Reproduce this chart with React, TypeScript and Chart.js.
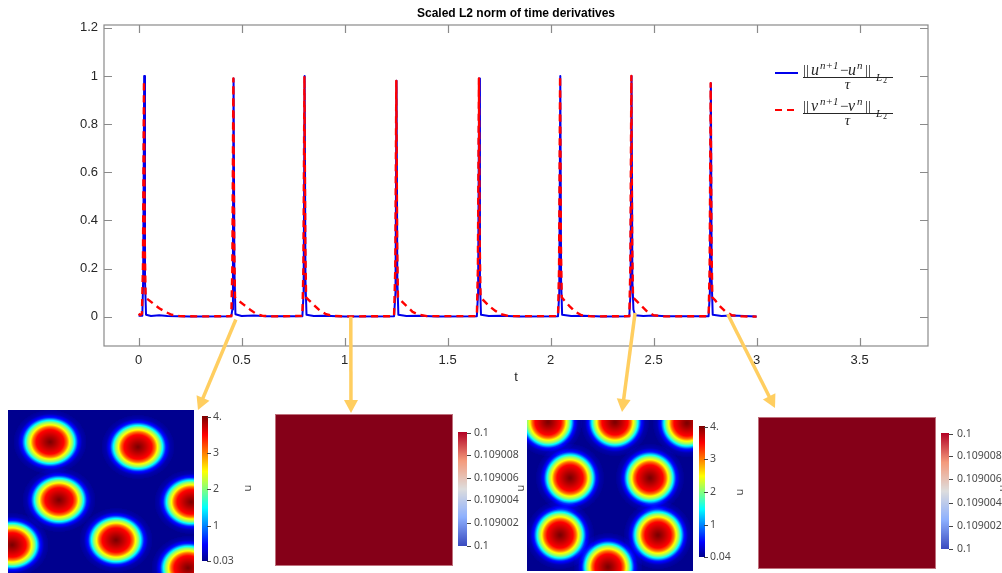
import { useEffect, useRef } from "react";
import { Chart, registerables } from "chart.js";

Chart.register(...registerables);

// ---------------- data ----------------
const chartTitle = "Scaled L2 norm of time derivatives";
const xAxisLabel = "t";
const xTickValues = [0, 0.5, 1, 1.5, 2, 2.5, 3, 3.5];
const yTickValues = [0, 0.2, 0.4, 0.6, 0.8, 1, 1.2];
const xRange = [-0.168, 3.832];
const yRange = [-0.122, 1.212];

// ||u^{n+1}-u^n|| / tau  (blue, solid)
const uTimes = [
  0, 0.018, 0.022, 0.027, 0.031, 0.036, 0.06, 0.1, 0.14, 0.25,
  0.45, 0.455, 0.458, 0.461, 0.465, 0.47, 0.5, 0.56, 0.62,
  0.795, 0.801, 0.806, 0.81, 0.815, 0.85, 0.9, 1.0,
  1.24, 1.247, 1.252, 1.256, 1.261, 1.3, 1.36, 1.45,
  1.642, 1.648, 1.653, 1.657, 1.662, 1.7, 1.76, 1.85,
  2.036, 2.042, 2.047, 2.051, 2.056, 2.1, 2.16, 2.25,
  2.382, 2.388, 2.393, 2.397, 2.402, 2.41, 2.45, 2.5, 2.56,
  2.767, 2.773, 2.778, 2.782, 2.787, 2.83, 2.88, 3.0,
];
const uNorms = [
  0.004, 0.004, 0.15, 1.0, 0.15, 0.008, 0.003, 0.006, 0.003, 0.001,
  0.002, 0.03, 0.3, 0.99, 0.2, 0.01, 0.003, 0.005, 0.002,
  0.002, 0.1, 1.0, 0.15, 0.008, 0.003, 0.004, 0.001,
  0.002, 0.1, 0.98, 0.15, 0.008, 0.003, 0.004, 0.001,
  0.002, 0.1, 0.99, 0.15, 0.008, 0.003, 0.004, 0.001,
  0.002, 0.1, 1.0, 0.15, 0.008, 0.003, 0.004, 0.001,
  0.002, 0.1, 1.0, 0.15, 0.03, 0.006, 0.003, 0.005, 0.002,
  0.002, 0.1, 0.97, 0.15, 0.008, 0.003, 0.005, 0.001,
];

// ||v^{n+1}-v^n|| / tau  (red, dashed)
const vTimes = [
  0, 0.008, 0.016, 0.021, 0.026, 0.03, 0.034, 0.045, 0.07, 0.1, 0.13, 0.16, 0.2, 0.3,
  0.45, 0.455, 0.46, 0.464, 0.468, 0.48, 0.51, 0.54, 0.57, 0.6, 0.65,
  0.795, 0.8, 0.805, 0.809, 0.813, 0.825, 0.855, 0.88, 0.91, 0.95, 1.0,
  1.24, 1.246, 1.251, 1.255, 1.259, 1.27, 1.3, 1.33, 1.36, 1.4,
  1.642, 1.647, 1.652, 1.656, 1.66, 1.672, 1.7, 1.73, 1.76, 1.8,
  2.036, 2.041, 2.046, 2.05, 2.054, 2.066, 2.09, 2.12, 2.15, 2.2,
  2.382, 2.387, 2.392, 2.396, 2.4, 2.412, 2.44, 2.47, 2.5, 2.55,
  2.767, 2.772, 2.777, 2.781, 2.785, 2.797, 2.82, 2.85, 2.88, 2.93, 3.0,
];
const vNorms = [
  0.012, 0.006, 0.012, 0.2, 0.98, 0.3, 0.08, 0.072, 0.055, 0.035, 0.02, 0.008, 0.002, 0.001,
  0.002, 0.2, 0.99, 0.3, 0.08, 0.07, 0.05, 0.03, 0.012, 0.004, 0.001,
  0.003, 0.2, 1.0, 0.3, 0.08, 0.07, 0.045, 0.025, 0.01, 0.003, 0.001,
  0.002, 0.2, 0.98, 0.3, 0.08, 0.07, 0.045, 0.02, 0.008, 0.002,
  0.002, 0.2, 0.99, 0.3, 0.08, 0.07, 0.045, 0.025, 0.01, 0.002,
  0.002, 0.2, 1.0, 0.3, 0.08, 0.068, 0.045, 0.02, 0.006, 0.001,
  0.002, 0.2, 1.0, 0.3, 0.08, 0.07, 0.045, 0.02, 0.006, 0.001,
  0.002, 0.2, 0.97, 0.3, 0.08, 0.07, 0.045, 0.02, 0.006, 0.001, 0.0,
];

// snapshot arrows: start on the curve (t, value)
const snapshotTimes = [0.472, 1.03, 2.41, 2.86];
const snapshotLevels = [-0.012, 0.0, 0.015, 0.01];

// u-field snapshots: blob centres (fraction of image width / height from top)
const field1BlobX = [0.226, 0.699, 0.274, 0.984, 0.581, 0.022, 0.968];
const field1BlobY = [0.196, 0.227, 0.552, 0.564, 0.798, 0.828, 0.969];
const field3BlobX = [0.127, 0.53, 0.964, 0.259, 0.741, 0.199, 0.789, 0.488];
const field3BlobY = [0.013, 0.013, 0.02, 0.384, 0.384, 0.762, 0.762, 0.974];
// radial profile of one spot (radius in px at nominal size, value of u)
const spotRadius = [0, 5, 13, 16, 18, 21, 23, 26, 30, 34];
const spotValue = [4.0, 3.8, 3.45, 3.0, 2.5, 2.0, 1.45, 0.55, 0.12, 0.03];
const field1Range = [0.03, 4];
const field3Range = [0.04, 4];
const jetBar1Values = [4, 3, 2, 1, 0.03];
const jetBar1Labels = ["4.", "3", "2", "1", "0.03"];
const jetBar3Values = [4, 3, 2, 1, 0.04];
const jetBar3Labels = ["4.", "3", "2", "1", "0.04"];
// v-field snapshots (uniform)
const vFieldValue = 0.10901;
const vBarRange = [0.109, 0.10901];
const vBarValues = [0.10901, 0.109008, 0.109006, 0.109004, 0.109002, 0.109];
const vBarLabels = ["0.1", "0.109008", "0.109006", "0.109004", "0.109002", "0.1"];
const barTitle = "u";

// ---------------- styles / layout ----------------
const AXIS_COLOR = "#8a8a8a";
const TEXT_COLOR = "#262626";
const BLUE = "rgb(0,0,235)";
const RED = "rgb(255,0,0)";
const ARROW_COLOR = "rgb(255,206,96)";
const ARROW_TIPS = [[198, 410], [351, 413], [622, 412], [775, 408]];
const SANS = '"Liberation Sans", Arial, sans-serif';
const SERIF = '"Liberation Serif", "Times New Roman", serif';
const BAR_FONT = '10.5px "Noto Sans", sans-serif';

const JET: number[][] = [
  [0, 0, 0, 143], [0.111, 0, 0, 255], [0.365, 0, 255, 255], [0.492, 128, 255, 128],
  [0.619, 255, 255, 0], [0.873, 255, 0, 0], [1, 128, 0, 0],
];
const COOLWARM: number[][] = [
  [0, 59, 76, 192], [0.25, 141, 176, 254], [0.5, 221, 221, 221], [0.75, 244, 154, 123], [1, 180, 4, 38],
];
function cmap(stops: number[][], t: number): number[] {
  t = Math.max(0, Math.min(1, t));
  for (let i = 1; i < stops.length; i++) {
    if (t <= stops[i][0]) {
      const a = stops[i - 1], b = stops[i];
      const f = (t - a[0]) / (b[0] - a[0]);
      return [a[1] + f * (b[1] - a[1]), a[2] + f * (b[2] - a[2]), a[3] + f * (b[3] - a[3])];
    }
  }
  const l = stops[stops.length - 1];
  return [l[1], l[2], l[3]];
}
function spotAt(r: number): number {
  if (r >= spotRadius[spotRadius.length - 1]) return 0;
  for (let i = 1; i < spotRadius.length; i++) {
    if (r <= spotRadius[i]) {
      const f = (r - spotRadius[i - 1]) / (spotRadius[i] - spotRadius[i - 1]);
      return spotValue[i - 1] + f * (spotValue[i] - spotValue[i - 1]);
    }
  }
  return 0;
}

type PanelDef = {
  left: number; top: number; width: number; height: number;
  pad: { left: number; top: number; right: number; bottom: number };
  bar: { x: number; y: number; w: number; h: number };
  tickX: number; labelX: number; title: [number, number];
  kind: "jet" | "uniform";
  blobX?: number[]; blobY?: number[]; sx?: number; sy?: number;
  range: number[]; barValues: number[]; barLabels: string[];
};

const PANELS: PanelDef[] = [
  {
    left: 0, top: 400, width: 262, height: 173,
    pad: { left: 8, top: 10, right: 68, bottom: 0 },
    bar: { x: 202, y: 16, w: 6, h: 145 }, tickX: 207, labelX: 213, title: [248, 88],
    kind: "jet", blobX: field1BlobX, blobY: field1BlobY, sx: 1.07, sy: 0.94,
    range: field1Range, barValues: jetBar1Values, barLabels: jetBar1Labels,
  },
  {
    left: 262, top: 400, width: 264, height: 173,
    pad: { left: 13, top: 14, right: 73, bottom: 7 },
    bar: { x: 196, y: 32, w: 9, h: 114 }, tickX: 205, labelX: 212, title: [259, 88],
    kind: "uniform", range: vBarRange, barValues: vBarValues, barLabels: vBarLabels,
  },
  {
    left: 526, top: 400, width: 226, height: 173,
    pad: { left: 1, top: 20, right: 59, bottom: 2 },
    bar: { x: 173, y: 26, w: 6, h: 131 }, tickX: 178, labelX: 184, title: [214, 92],
    kind: "jet", blobX: field3BlobX, blobY: field3BlobY, sx: 1.0, sy: 1.0,
    range: field3Range, barValues: jetBar3Values, barLabels: jetBar3Labels,
  },
  {
    left: 752, top: 400, width: 250, height: 173,
    pad: { left: 6, top: 17, right: 66, bottom: 4 },
    bar: { x: 189, y: 33, w: 8, h: 116 }, tickX: 197, labelX: 205, title: [251, 88],
    kind: "uniform", range: vBarRange, barValues: vBarValues, barLabels: vBarLabels,
  },
];

// ---------------- main chart drawing helpers ----------------
function drawNormLabel(ctx: CanvasRenderingContext2D, sym: string, x0: number, barY: number) {
  ctx.fillStyle = TEXT_COLOR;
  ctx.textAlign = "left";
  ctx.textBaseline = "alphabetic";
  const roman = (s: number) => `${s}px ${SERIF}`;
  const ital = (s: number) => `italic ${s}px ${SERIF}`;
  const pieces: [string, string, number, number][] = [
    ["||", roman(15), 0, -2],
    [sym, ital(16), 8, -2],
    ["n+1", ital(11), 17, -8],
    ["\u2212", roman(15), 37, -2],
    [sym, ital(16), 45, -2],
    ["n", ital(11), 54, -8],
    ["||", roman(15), 62, -2],
    ["L", ital(11), 73, 3.5],
    ["2", roman(8), 80, 5.5],
  ];
  for (const [txt, font, dx, dy] of pieces) {
    ctx.font = font;
    ctx.fillText(txt, x0 + dx, barY + dy);
  }
  ctx.strokeStyle = TEXT_COLOR;
  ctx.lineWidth = 1;
  ctx.beginPath();
  ctx.moveTo(x0, barY + 0.5);
  ctx.lineTo(x0 + 90, barY + 0.5);
  ctx.stroke();
  ctx.font = ital(15);
  ctx.textAlign = "center";
  ctx.fillText("\u03c4", x0 + 44.5, barY + 12);
}

const framePlugin = {
  id: "frame",
  afterDraw(chart: any) {
    const ctx: CanvasRenderingContext2D = chart.ctx;
    const { left, right, top, bottom } = chart.chartArea;
    const xs = chart.scales.x, ys = chart.scales.y;
    ctx.save();
    ctx.strokeStyle = AXIS_COLOR;
    ctx.lineWidth = 1.2;
    ctx.strokeRect(left, top, right - left, bottom - top);
    ctx.beginPath();
    for (const v of xTickValues) {
      const px = Math.round(xs.getPixelForValue(v)) + 0.5;
      ctx.moveTo(px, bottom); ctx.lineTo(px, bottom - 8);
      ctx.moveTo(px, top); ctx.lineTo(px, top + 8);
    }
    for (const v of yTickValues) {
      const py = Math.round(ys.getPixelForValue(v)) + 0.5;
      ctx.moveTo(left, py); ctx.lineTo(left + 8, py);
      ctx.moveTo(right, py); ctx.lineTo(right - 8, py);
    }
    ctx.stroke();

    // title & axis label
    ctx.fillStyle = "#000";
    ctx.font = `bold 12px ${SANS}`;
    ctx.textAlign = "center";
    ctx.textBaseline = "middle";
    ctx.fillText(chartTitle, (left + right) / 2, 14);
    ctx.fillStyle = TEXT_COLOR;
    ctx.font = `13px ${SANS}`;
    ctx.fillText(xAxisLabel, (left + right) / 2, 377);

    // legend
    ctx.lineWidth = 2;
    ctx.strokeStyle = BLUE;
    ctx.beginPath(); ctx.moveTo(775, 73); ctx.lineTo(798, 73); ctx.stroke();
    ctx.strokeStyle = RED;
    ctx.setLineDash([7, 5]);
    ctx.beginPath(); ctx.moveTo(775, 110); ctx.lineTo(799, 110); ctx.stroke();
    ctx.setLineDash([]);
    drawNormLabel(ctx, "u", 803, 77);
    drawNormLabel(ctx, "v", 803, 113);

    // arrows to snapshots
    ctx.strokeStyle = ARROW_COLOR;
    ctx.fillStyle = ARROW_COLOR;
    ctx.lineWidth = 3.5;
    ctx.lineCap = "butt";
    snapshotTimes.forEach((t, i) => {
      const sx = xs.getPixelForValue(t);
      const sy = ys.getPixelForValue(snapshotLevels[i]);
      const [tx, ty] = ARROW_TIPS[i];
      const dx = tx - sx, dy = ty - sy;
      const len = Math.hypot(dx, dy);
      const ux = dx / len, uy = dy / len;
      const hl = 13, hw = 7;
      const bx = tx - ux * hl, by = ty - uy * hl;
      ctx.beginPath(); ctx.moveTo(sx, sy); ctx.lineTo(bx + ux, by + uy); ctx.stroke();
      ctx.beginPath();
      ctx.moveTo(tx, ty);
      ctx.lineTo(bx - uy * hw, by + ux * hw);
      ctx.lineTo(bx + uy * hw, by - ux * hw);
      ctx.closePath();
      ctx.fill();
    });
    ctx.restore();
  },
};

function panelPlugin(p: PanelDef) {
  return {
    id: "field",
    beforeDatasetsDraw(chart: any) {
      const ctx: CanvasRenderingContext2D = chart.ctx;
      const { left, top, right, bottom } = chart.chartArea;
      const xs = chart.scales.x, ys = chart.scales.y;
      const pts = chart.data.datasets[0].data as { x: number; y: number; v?: number }[];
      const [lo, hi] = p.range;
      ctx.save();
      if (p.kind === "jet") {
        const w = Math.round(right - left), h = Math.round(bottom - top);
        const img = ctx.createImageData(w, h);
        const centers = pts.map((q) => [xs.getPixelForValue(q.x) - left, ys.getPixelForValue(q.y) - top]);
        for (let py = 0; py < h; py++) {
          for (let px = 0; px < w; px++) {
            let v = lo;
            for (const [cx, cy] of centers) {
              const rx = (px + 0.5 - cx) / p.sx!, ry = (py + 0.5 - cy) / p.sy!;
              const r = Math.sqrt(rx * rx + ry * ry);
              v += spotAt(r);
            }
            const c = cmap(JET, (v - lo) / (hi - lo));
            const k = (py * w + px) * 4;
            img.data[k] = c[0]; img.data[k + 1] = c[1]; img.data[k + 2] = c[2]; img.data[k + 3] = 255;
          }
        }
        ctx.putImageData(img, Math.round(left), Math.round(top));
      } else {
        const val = pts[0].v ?? hi;
        const c = cmap(COOLWARM, (val - lo) / (hi - lo));
        // shaded render of the uniform field
        ctx.fillStyle = `rgb(${Math.round(c[0] * 0.74)},${Math.round(c[1] * 0)},${Math.round(c[2] * 0.62)})`;
        ctx.fillRect(left, top, right - left, bottom - top);
        ctx.strokeStyle = "rgba(205,140,150,0.8)";
        ctx.lineWidth = 1;
        ctx.strokeRect(left + 0.5, top + 0.5, right - left - 1, bottom - top - 1);
      }
      // colour bar
      const b = p.bar;
      const stops = p.kind === "jet" ? JET : COOLWARM;
      for (let y = 0; y < b.h; y++) {
        const c = cmap(stops, 1 - y / (b.h - 1));
        ctx.fillStyle = `rgb(${Math.round(c[0])},${Math.round(c[1])},${Math.round(c[2])})`;
        ctx.fillRect(b.x, b.y + y, b.w, 1);
      }
      ctx.strokeStyle = "#444";
      ctx.lineWidth = 1;
      ctx.fillStyle = "#4a4a4a";
      ctx.font = BAR_FONT;
      ctx.textAlign = "left";
      ctx.textBaseline = "middle";
      p.barValues.forEach((v, i) => {
        const y = b.y + (1 - (v - lo) / (hi - lo)) * b.h;
        const yy = Math.round(Math.min(Math.max(y, b.y + 0.5), b.y + b.h - 0.5)) + 0.5;
        ctx.beginPath(); ctx.moveTo(p.tickX, yy); ctx.lineTo(p.tickX + 4, yy); ctx.stroke();
        ctx.fillText(p.barLabels[i], p.labelX, yy);
      });
      ctx.save();
      ctx.translate(p.title[0], p.title[1]);
      ctx.rotate(-Math.PI / 2);
      ctx.textAlign = "center";
      ctx.font = '11px "Noto Sans", sans-serif';
      ctx.fillText(barTitle, 0, 0);
      ctx.restore();
      ctx.restore();
    },
  };
}

export default function App() {
  const mainRef = useRef<HTMLCanvasElement | null>(null);
  const panelRefs = useRef<(HTMLCanvasElement | null)[]>([]);

  useEffect(() => {
    const charts: Chart[] = [];
    const tickFont = { family: SANS, size: 13 };
    charts.push(
      new Chart(mainRef.current!, {
        type: "line",
        data: {
          datasets: [
            {
              data: vTimes.map((t, i) => ({ x: t, y: vNorms[i] })),
              borderColor: RED,
              borderWidth: 2.4,
              borderDash: [7, 5],
              pointRadius: 0,
              borderJoinStyle: "round",
              order: 0,
            } as any,
            {
              data: uTimes.map((t, i) => ({ x: t, y: uNorms[i] })),
              borderColor: BLUE,
              borderWidth: 2,
              pointRadius: 0,
              borderJoinStyle: "round",
              order: 1,
            } as any,
          ],
        },
        options: {
          animation: false,
          responsive: false,
          devicePixelRatio: 1,
          events: [],
          layout: { padding: { top: 25, right: 74, left: 0, bottom: 0 } },
          plugins: { legend: { display: false }, tooltip: { enabled: false }, title: { display: false } },
          scales: {
            x: {
              type: "linear",
              min: xRange[0],
              max: xRange[1],
              afterBuildTicks: (s: any) => { s.ticks = xTickValues.map((v) => ({ value: v })); },
              afterFit: (s: any) => { s.height = 227; },
              grid: { display: false, drawTicks: false },
              border: { display: false },
              ticks: { padding: 7, font: tickFont, color: TEXT_COLOR, autoSkip: false, maxRotation: 0, callback: (v: any) => String(v) },
            },
            y: {
              type: "linear",
              min: yRange[0],
              max: yRange[1],
              afterBuildTicks: (s: any) => { s.ticks = yTickValues.map((v) => ({ value: v })); },
              afterFit: (s: any) => { s.width = 104; },
              grid: { display: false, drawTicks: false },
              border: { display: false },
              ticks: { padding: 6, font: tickFont, color: TEXT_COLOR, autoSkip: false, callback: (v: any) => String(v) },
            },
          },
        } as any,
        plugins: [framePlugin],
      })
    );

    PANELS.forEach((p, i) => {
      const data =
        p.kind === "jet"
          ? p.blobX!.map((x, k) => ({ x, y: p.blobY![k] }))
          : [{ x: 0.5, y: 0.5, v: vFieldValue }];
      charts.push(
        new Chart(panelRefs.current[i]!, {
          type: "scatter",
          data: { datasets: [{ data, pointRadius: 0 } as any] },
          options: {
            animation: false,
            responsive: false,
            devicePixelRatio: 1,
            events: [],
            layout: { padding: p.pad },
            plugins: { legend: { display: false }, tooltip: { enabled: false } },
            scales: {
              x: { display: false, min: 0, max: 1 },
              y: { display: false, min: 0, max: 1, reverse: true },
            },
          } as any,
          plugins: [panelPlugin(p)],
        })
      );
    });
    return () => charts.forEach((c) => c.destroy());
  }, []);

  return (
    <div style={{ position: "fixed", left: 0, top: 0, width: 1002, height: 573, background: "#fff", overflow: "hidden" }}>
      {PANELS.map((p, i) => (
        <div key={i} style={{ position: "absolute", left: p.left, top: p.top, width: p.width, height: p.height }}>
          <canvas
            ref={(el) => { panelRefs.current[i] = el; }}
            width={p.width}
            height={p.height}
            style={{ display: "block", width: p.width, height: p.height }}
          />
        </div>
      ))}
      <div style={{ position: "absolute", left: 0, top: 0, width: 1002, height: 573, pointerEvents: "none" }}>
        <canvas ref={mainRef} width={1002} height={573} style={{ display: "block", width: 1002, height: 573 }} />
      </div>
    </div>
  );
}
